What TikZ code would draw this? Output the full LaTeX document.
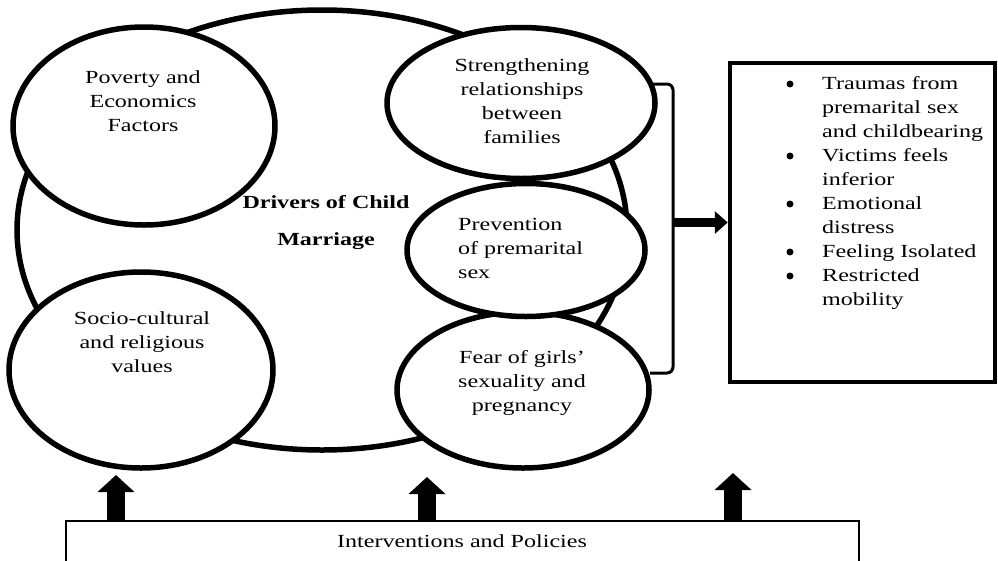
\documentclass[tikz,border=0pt]{standalone}
\usepackage{fontspec}
\setmainfont{Liberation Serif}[FakeStretch=1.3]
\usetikzlibrary{shapes.geometric,arrows.meta}
\begin{document}
\begin{tikzpicture}[x=1pt,y=-1pt,
  oval/.style={ellipse, draw, line width=5.5pt, fill=white, inner sep=0pt},
  txt/.style={font=\fontsize{18.5}{24}\selectfont, inner sep=0pt, align=center},
  dot/.style={circle, fill, inner sep=0pt, minimum size=7pt},
  bigarrow/.style={line width=18pt, -{Triangle[length=17pt,width=36pt]}},
]
\useasboundingbox (0,0) rectangle (998,560);
\clip (0,0) rectangle (998,560);

% ovals
\node[oval, minimum width=610pt, minimum height=440pt] (drv) at (322,230) {};
\node[oval, minimum width=262pt, minimum height=198pt] (pov) at (144,126) {};
\node[oval, minimum width=264pt, minimum height=196pt] (soc) at (141,370) {};
\node[oval, minimum width=268pt, minimum height=151pt] (str) at (521,103) {};
\node[oval, minimum width=252pt, minimum height=156pt] (fear) at (523,390) {};
\node[oval, minimum width=238pt, minimum height=133pt] (prev) at (526,250) {};

% texts
\node[txt] (povt) at (143,101) {Poverty and\\Economics\\Factors};
\node[txt] (soct) at (142,342) {Socio-cultural\\and religious\\values};
\node[txt] (strt) at (522,101) {Strengthening\\relationships\\between\\families};
\node[txt, align=left, anchor=west] (prevt) at (458,248) {Prevention\\of premarital\\sex};
\node[txt] (feart) at (522,383) {Fear of girls’\\sexuality and\\pregnancy};
\node[txt, font=\fontsize{18.5}{24}\selectfont\bfseries] (drvt) at (326,223) {Drivers of Child\\[13pt]Marriage};

% outcome box
\node[draw, line width=4.5pt, minimum width=265pt, minimum height=319pt, inner sep=0pt] (out) at (862.5,222.5) {};
\node[dot] (b1) at (790,84) {};
\node[dot] (b2) at (790,156) {};
\node[dot] (b3) at (790,204) {};
\node[dot] (b4) at (790,252) {};
\node[dot] (b5) at (790,276) {};
\node[txt, align=left, anchor=west] (outt) at (822,193) {Traumas from\\premarital sex\\and childbearing\\Victims feels\\inferior\\Emotional\\distress\\Feeling Isolated\\Restricted\\mobility};

% brace and arrow
\coordinate (bt) at (652,84);
\coordinate (bb) at (650,373);
\coordinate (bm) at (673,222.5);
\draw[line width=3pt, rounded corners=6pt] (bt) -- (673,84) -- (673,373) -- (bb);
\draw[line width=9pt, -{Triangle[length=13pt,width=22pt]}] (bm) -- (out.west);

% interventions box
\node[draw, line width=2pt, minimum width=793pt, minimum height=60pt, inner sep=0pt, anchor=north west] (ip) at (65,520) {};
\node[txt] (ipt) at (462,541) {Interventions and Policies};
\coordinate (t1) at (116,475);
\coordinate (t2) at (427,477);
\coordinate (t3) at (733,473);
\draw[bigarrow] (ip.north -| t1) -- (t1);
\draw[bigarrow] (ip.north -| t2) -- (t2);
\draw[bigarrow] (ip.north -| t3) -- (t3);
\end{tikzpicture}
\end{document}
